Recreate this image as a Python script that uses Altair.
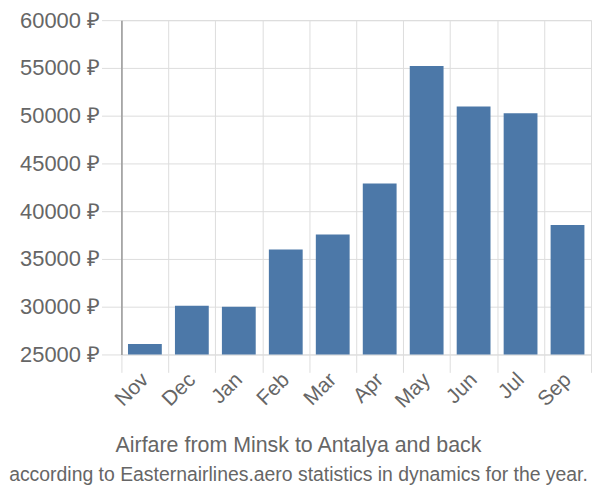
import altair as alt
import pandas as pd

months = ["Nov", "Dec", "Jan", "Feb", "Mar", "Apr", "May", "Jun", "Jul", "Sep"]
prices = [26100, 30100, 30000, 36000, 37550, 42900, 55200, 50950, 50250, 38550]
base_value = 25000

df = pd.DataFrame({"month": months, "price": prices})

FONT = "Liberation Sans"
GREY = "#666666"

chart = alt.Chart(df).mark_bar(
    color="#4c78a8", width=alt.RelativeBandSize(0.72)
).encode(
    x=alt.X(
        "month:N",
        sort=months,
        scale=alt.Scale(paddingInner=0, paddingOuter=0),
        axis=alt.Axis(
            title=None,
            labelAngle=-45,
            labelAlign="right",
            labelBaseline="middle",
            labelFontSize=21,
            labelFont=FONT,
            labelColor=GREY,
            labelPadding=4,
            tickSize=18,
            tickColor="#dddddd",
            tickBand="extent",
            gridColor="#dddddd",
            domain=False,
            grid=True,
        ),
    ),
    y=alt.Y(
        "price:Q",
        scale=alt.Scale(domain=[25000, 60000], nice=False, zero=False),
        axis=alt.Axis(
            title=None,
            values=[25000, 30000, 35000, 40000, 45000, 50000, 55000, 60000],
            labelExpr="datum.value + ' ₽'",
            labelFontSize=22,
            labelFont=FONT,
            labelColor=GREY,
            labelPadding=2,
            tickSize=20,
            tickColor="#dddddd",
            gridColor="#dddddd",
            domainColor="#999999",
            domainWidth=1.5,
            minExtent=114,
            maxExtent=114,
        ),
    ),
    y2=alt.Y2(datum=base_value),
).properties(
    width=472,
    height=336,
    padding={"left": 0, "top": 0, "right": 0, "bottom": 0},
    title=alt.TitleParams(
        text="Airfare from Minsk to Antalya and back",
        subtitle="according to Easternairlines.aero statistics in dynamics for the year.",
        orient="bottom",
        anchor="middle",
        dx=-58,
        offset=24,
        font=FONT,
        fontSize=21.5,
        fontWeight="normal",
        color=GREY,
        subtitleFont=FONT,
        subtitleFontSize=19.5,
        subtitleColor=GREY,
        subtitlePadding=10,
    ),
).configure_view(stroke=None).configure(background="white")

chart.save("out.html", embed_options={"renderer": "svg", "actions": False})
